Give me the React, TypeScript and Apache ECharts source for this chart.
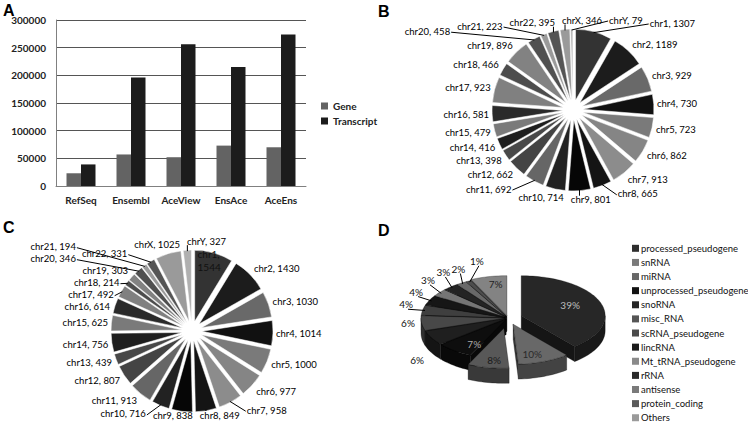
import React, { useEffect, useRef } from 'react';
import * as echarts from 'echarts';

// ---------- Panel A data ----------
const barCategories = ['RefSeq', 'Ensembl', 'AceView', 'EnsAce', 'AceEns'];
const geneCounts = [23000, 57000, 52000, 73000, 70000];
const transcriptCounts = [39000, 196000, 256000, 215000, 274000];
const yMax = 300000;
const yInterval = 50000;

// ---------- Panels B & C data ----------
const chrNames = ['chr1', 'chr2', 'chr3', 'chr4', 'chr5', 'chr6', 'chr7', 'chr8', 'chr9', 'chr10', 'chr11', 'chr12',
  'chr13', 'chr14', 'chr15', 'chr16', 'chr17', 'chr18', 'chr19', 'chr20', 'chr21', 'chr22', 'chrX', 'chrY'];
const countsB = [1307, 1189, 929, 730, 723, 862, 913, 665, 801, 714, 692, 662, 398, 416, 479, 581, 923, 466, 896, 458, 223, 395, 346, 79];
const countsC = [1544, 1430, 1030, 1014, 1000, 977, 958, 849, 838, 716, 913, 807, 439, 756, 625, 614, 492, 214, 303, 346, 194, 331, 1025, 327];
const chrColors = ['#333333', '#1c1c1c', '#696969', '#111111', '#7a7a7a', '#858585', '#8c8c8c', '#141414', '#060606', '#222222',
  '#666666', '#444444', '#484848', '#1e1e1e', '#7a7a7a', '#2a2a2a', '#808080', '#4d4d4d', '#828282', '#505050',
  '#9a9a9a', '#555555', '#9a9a9a', '#b0b0b0'];

// ---------- Panel D data ----------
const rnaTypes = ['processed_pseudogene', 'snRNA', 'miRNA', 'unprocessed_pseudogene', 'snoRNA', 'misc_RNA',
  'scRNA_pseudogene', 'lincRNA', 'Mt_tRNA_pseudogene', 'rRNA', 'antisense', 'protein_coding', 'Others'];
const rnaPercents = [39, 10, 8, 7, 6, 6, 4, 4, 3, 3, 2, 1, 7];
const rnaColors = ['#2e2e2e', '#7a7a7a', '#676767', '#111111', '#252525', '#555555', '#4a4a4a', '#1a1a1a',
  '#8a8a8a', '#2a2a2a', '#7a7a7a', '#5a5a5a', '#9a9a9a'];

// style config for the 3D pie (not data)
const D_GEOM = { cx: 508, cy: 318, rx: 84, ry: 40, depth: 15 };
const dExplode = [14, 14, 22, 3, 3, 3, 3, 3, 3, 3, 3, 3, 5];
const dInside = [true, true, true, true, false, false, false, false, false, false, false, false, true];
const dInsideColor = ['#bdbdbd', '#2a2a2a', '#1a1a1a', '#aaaaaa', '', '', '', '', '', '', '', '', '#222222'];
const dLeader = [false, false, false, false, false, false, true, true, true, true, true, true, false];
const dLabelNudge = [[0, 0], [0, 0], [0, 0], [0, 0], [0, 0], [3, -6], [0, -3], [2, -2], [2, -3], [4, -3], [6, -1], [16, -6], [0, 0]];

const FONT = 'Lato';
const LABEL_SIZE = 9.5;
const PIE_R = 71;
const PIE_OFFSET = 10;

function shade(hex: string, f: number) {
  const n = parseInt(hex.slice(1), 16);
  const r = Math.round(((n >> 16) & 255) * f);
  const g = Math.round(((n >> 8) & 255) * f);
  const b = Math.round((n & 255) * f);
  return `rgb(${r},${g},${b})`;
}

// geometry of one slice of the tilted pie, from the data
function sliceGeom(i: number, v: number) {
  const total = rnaPercents.reduce((a, b) => a + b, 0);
  let before = 0;
  for (let j = 0; j < i; j++) before += rnaPercents[j];
  const a0 = (before / total) * Math.PI * 2;
  const a1 = ((before + v) / total) * Math.PI * 2;
  const mid = (a0 + a1) / 2;
  const { cx, cy, rx, ry } = D_GEOM;
  const e = dExplode[i];
  const ox = e * Math.sin(mid);
  const oy = -e * Math.cos(mid) * (ry / rx);
  const px = (t: number, s = 1) => cx + ox + rx * s * Math.sin(t);
  const py = (t: number, s = 1) => cy + oy - ry * s * Math.cos(t);
  return { a0, a1, mid, ox, oy, px, py };
}

function renderPie3D(params: any, api: any) {
  const i = params.dataIndex;
  const v = Number(api.value(0));
  const { a0, a1, px, py, ox, oy } = sliceGeom(i, v);
  const { cx, cy, depth } = D_GEOM;
  const arc = (s: number, en: number, dy = 0) => {
    const n = Math.max(2, Math.ceil((en - s) / (Math.PI / 90)));
    const pts: number[][] = [];
    for (let q = 0; q <= n; q++) {
      const t = s + ((en - s) * q) / n;
      pts.push([px(t), py(t) + dy]);
    }
    return pts;
  };
  const apex = [cx + ox, cy + oy];
  const base = rnaColors[i];
  const children: any[] = [];
  const edge = 'rgba(0,0,0,0.55)';

  const ws = Math.max(a0, Math.PI / 2);
  const we = Math.min(a1, Math.PI * 1.5);
  if (we > ws) {
    const top = arc(ws, we);
    const bot = arc(ws, we, depth).reverse();
    const avgY = py((ws + we) / 2) + depth / 2;
    children.push({
      type: 'polygon', z2: Math.round(avgY),
      shape: { points: top.concat(bot) },
      style: { fill: shade(base, 0.55), stroke: edge, lineWidth: 0.5 },
    });
  }
  const wall = (t: number) => {
    const p = [px(t), py(t)];
    return {
      type: 'polygon', z2: Math.round((apex[1] + p[1]) / 2 + depth / 2),
      shape: { points: [apex, p, [p[0], p[1] + depth], [apex[0], apex[1] + depth]] },
      style: { fill: shade(base, 0.45), stroke: edge, lineWidth: 0.5 },
    };
  };
  if (Math.sin(a0) < -1e-6) children.push(wall(a0));
  if (Math.sin(a1) > 1e-6) children.push(wall(a1));

  children.push({
    type: 'polygon', z2: 1000,
    shape: { points: [apex].concat(arc(a0, a1)) },
    style: { fill: shade(base, 0.85), stroke: edge, lineWidth: 0.5 },
  });
  return { type: 'group', children };
}

function pie3DLabels() {
  const out: any[] = [];
  const { depth } = D_GEOM;
  rnaPercents.forEach((v, i) => {
    const { mid, px, py } = sliceGeom(i, v);
    const txt = `${v}%`;
    const font = `10px ${FONT}`;
    if (dInside[i]) {
      out.push({
        type: 'text', z: 10, x: px(mid, 0.62), y: py(mid, 0.8),
        style: { text: txt, fill: dInsideColor[i], font, textAlign: 'center', align: 'center', textVerticalAlign: 'middle', verticalAlign: 'middle' },
      });
    } else {
      const c = Math.cos(mid);
      const front = depth * Math.min(1, Math.max(0, -c) * 2);
      const lx = px(mid, 1.2) + dLabelNudge[i][0];
      const ly = py(mid, 1.4) + front + dLabelNudge[i][1];
      if (dLeader[i]) {
        out.push({
          type: 'line', z: 9,
          shape: { x1: px(mid, 0.97), y1: py(mid, 0.97), x2: lx + 2, y2: ly + 5 },
          style: { stroke: '#000', lineWidth: 1 },
        });
      }
      out.push({
        type: 'text', z: 10, x: lx, y: ly,
        style: { text: txt, fill: '#111', font, textAlign: 'center', align: 'center', textVerticalAlign: 'middle', verticalAlign: 'middle' },
      });
    }
  });
  return out;
}

type Box = {
  x: number; y: number; w: number; h: number; zone: string;
  nx: number; ny: number; rimX: number; rimY: number; text: string;
};

// 1D least-displacement packing of items along an axis (clusters merge when they collide)
function pack(items: { p: number; size: number; set: (v: number) => void }[]) {
  const sorted = items.slice().sort((a, b) => a.p - b.p);
  type Cl = { items: typeof sorted; start: number; len: number };
  const clusters: Cl[] = [];
  for (const it of sorted) {
    clusters.push({ items: [it], start: it.p, len: it.size });
    while (clusters.length > 1) {
      const c2 = clusters[clusters.length - 1];
      const c1 = clusters[clusters.length - 2];
      if (c1.start + c1.len <= c2.start) break;
      const all = c1.items.concat(c2.items);
      let off = 0;
      let sum = 0;
      for (const m of all) { sum += m.p - off; off += m.size; }
      clusters.splice(clusters.length - 2, 2, { items: all, start: sum / all.length, len: off });
    }
  }
  for (const c of clusters) {
    let off = 0;
    for (const m of c.items) { m.set(c.start + off); off += m.size; }
  }
}

// place pie labels just outside their slices (angles computed from the data), then resolve overlaps
function layoutPieLabels(values: number[], cx: number, cy: number, skipIdx: number, maxY: number): Box[] {
  const total = values.reduce((a, b) => a + b, 0);
  const canvas = document.createElement('canvas');
  const ctx = canvas.getContext('2d')!;
  ctx.font = `${LABEL_SIZE}px ${FONT}`;
  const Rout = PIE_R + PIE_OFFSET;
  const R = Rout + 3;
  const h = 12;
  const ZONE = 0.55;
  let acc = 0;
  const boxes: Box[] = [];
  values.forEach((v, i) => {
    const th = ((acc + v / 2) / total) * Math.PI * 2;
    acc += v;
    if (i === skipIdx) return;
    const s = Math.sin(th);
    const c = Math.cos(th);
    const text = `${chrNames[i]}, ${v}`;
    const w = ctx.measureText(text).width;
    const ax = cx + R * s;
    const ay = cy - R * c;
    const t = Math.max(-1, Math.min(1, s / ZONE));
    const x = ax - (w / 2) * (1 - t);
    const y = Math.min(maxY, ay - (c * h) / 2);
    const zone = Math.abs(s) < ZONE ? (c > 0 ? 'top' : 'bottom') : (s > 0 ? 'right' : 'left');
    boxes.push({ x, y, w, h, zone, nx: x, ny: y, rimX: cx + (Rout - 1) * s, rimY: cy - (Rout - 1) * c, text });
  });
  for (const zone of ['top', 'bottom']) {
    pack(boxes.filter((b) => b.zone === zone).map((b) => ({ p: b.x, size: b.w + 7, set: (v: number) => { b.x = v; } })));
  }
  for (const zone of ['left', 'right']) {
    pack(boxes.filter((b) => b.zone === zone).map((b) => ({ p: b.y - h / 2, size: h, set: (v: number) => { b.y = v + h / 2; } })));
  }
  // side labels hug the pie outline at their final height
  for (const b of boxes) {
    if (b.zone !== 'left' && b.zone !== 'right') continue;
    const dy = Math.max(0, Math.abs(b.y - cy) - h / 2);
    const edge = Math.sqrt(Math.max(0, R * R - dy * dy));
    b.x = b.zone === 'left' ? cx - edge - b.w : cx + edge;
  }
  // a side label that collides with a top/bottom label slides outwards
  for (let it = 0; it < 4; it++) {
    for (const sd of boxes) {
      if (sd.zone !== 'left' && sd.zone !== 'right') continue;
      for (const t of boxes) {
        if (t.zone !== 'top' && t.zone !== 'bottom') continue;
        const ox = Math.min(sd.x + sd.w, t.x + t.w) - Math.max(sd.x, t.x) + 3;
        const oy = Math.min(sd.y + h / 2, t.y + h / 2) - Math.max(sd.y - h / 2, t.y - h / 2);
        if (ox > 0 && oy > 0) {
          if (sd.zone === 'left') sd.x = Math.min(sd.x, t.x - 6 - sd.w);
          else sd.x = Math.max(sd.x, t.x + t.w + 6);
        }
      }
    }
  }
  return boxes;
}

function labelGraphics(boxes: Box[]) {
  const out: any[] = [];
  boxes.forEach((b) => {
    out.push({
      type: 'text', x: b.x, y: b.y, z: 10,
      style: { text: b.text, fill: '#000', font: `${LABEL_SIZE}px ${FONT}`, textVerticalAlign: 'middle', verticalAlign: 'middle' },
    });
    const moved = Math.hypot(b.x - b.nx, b.y - b.ny);
    if (moved > 6) {
      let ex: number;
      let ey: number;
      if (b.rimX >= b.x && b.rimX <= b.x + b.w) {
        ex = b.rimX;
        ey = b.rimY > b.y ? b.y + b.h / 2 - 2 : b.y - b.h / 2 + 2;
      } else {
        ex = b.rimX < b.x ? b.x - 1 : b.x + b.w + 1;
        ey = b.y + 1;
      }
      out.push({
        type: 'line', z: 9,
        shape: { x1: b.rimX, y1: b.rimY, x2: ex, y2: ey },
        style: { stroke: '#000', lineWidth: 1 },
      });
    }
  });
  return out;
}

function insideLabel(values: number[], idx: number, cx: number, cy: number) {
  const total = values.reduce((a, b) => a + b, 0);
  let acc = 0;
  for (let j = 0; j < idx; j++) acc += values[j];
  const th = ((acc + values[idx] / 2) / total) * Math.PI * 2;
  const r = PIE_R * 0.88 + PIE_OFFSET;
  return {
    type: 'text', z: 10, x: cx + r * Math.sin(th) - 14, y: cy - r * Math.cos(th) - 1,
    style: {
      text: `${chrNames[idx]},\n${values[idx]}`, fill: '#111', font: `${LABEL_SIZE + 0.5}px ${FONT}`,
      lineHeight: 13, textVerticalAlign: 'middle', verticalAlign: 'middle',
    },
  };
}

function pieSeries(values: number[], center: number[]) {
  return {
    type: 'pie',
    center,
    radius: [0, PIE_R],
    startAngle: 90,
    clockwise: true,
    selectedMode: 'multiple',
    selectedOffset: PIE_OFFSET,
    avoidLabelOverlap: false,
    emphasis: { disabled: true },
    select: { itemStyle: { borderColor: '#fff', borderWidth: 0.5 } },
    itemStyle: { borderColor: '#fff', borderWidth: 0.5 },
    label: { show: false },
    labelLine: { show: false },
    data: values.map((v, i) => ({ name: chrNames[i], value: v, selected: true, itemStyle: { color: chrColors[i] } })),
  };
}

export default function App() {
  const ref = useRef<HTMLDivElement>(null);
  useEffect(() => {
    document.body.style.margin = '0';
    if (!ref.current) return;
    const chart = echarts.init(ref.current, undefined, { renderer: 'svg' });

    const legendStart = 248.3;
    const legendStep = 14.12;
    const legendGraphics: any[] = [];
    rnaTypes.forEach((name, i) => {
      const y = legendStart + i * legendStep;
      legendGraphics.push({
        type: 'rect', shape: { x: 632, y: y - 3.5, width: 7, height: 7 }, style: { fill: rnaColors[i] },
      });
      legendGraphics.push({
        type: 'text', x: 641, y,
        style: { text: name, fill: '#111', font: `9.5px ${FONT}`, textVerticalAlign: 'middle', verticalAlign: 'middle' },
      });
    });

    const letter = (t: string, x: number, y: number) => ({
      type: 'text', x, y,
      style: { text: t, fill: '#000', font: 'bold 16px "Liberation Sans"' },
    });

    const centerB = [573, 110];
    const centerC = [192, 331];
    const boxesB = layoutPieLabels(countsB, centerB[0], centerB[1], -1, 415);
    const boxesC = layoutPieLabels(countsC, centerC[0], centerC[1], 0, 415);

    chart.setOption({
      animation: false,
      textStyle: { fontFamily: FONT },
      grid: [{ left: 56, top: 20, width: 250, height: 166 }],
      xAxis: [{
        type: 'category', data: barCategories, gridIndex: 0,
        axisLine: { lineStyle: { color: '#808080' } },
        axisTick: { show: false },
        axisLabel: { interval: 0, fontSize: 10, fontWeight: 'bold', color: '#222', margin: 9, fontFamily: FONT },
      }],
      yAxis: [{
        type: 'value', gridIndex: 0, min: 0, max: yMax, interval: yInterval,
        axisLine: { show: true, lineStyle: { color: '#808080' } },
        axisTick: { show: false },
        splitLine: { lineStyle: { color: '#555', width: 1 } },
        axisLabel: { formatter: (v: number) => String(v), fontSize: 10, fontWeight: 'bold', color: '#222', margin: 10, fontFamily: FONT },
      }],
      legend: [{
        data: ['Gene', 'Transcript'], orient: 'vertical', left: 316, top: 96,
        itemWidth: 7, itemHeight: 7, itemGap: 5, icon: 'rect',
        textStyle: { fontSize: 10, fontWeight: 'bold', color: '#222', fontFamily: FONT },
      }],
      graphic: [
        letter('A', 3, 2), letter('B', 378, 3), letter('C', 3, 219), letter('D', 378, 222),
        ...legendGraphics,
        ...labelGraphics(boxesB),
        ...labelGraphics(boxesC),
        insideLabel(countsC, 0, centerC[0], centerC[1]),
        ...pie3DLabels(),
      ],
      series: [
        { name: 'Gene', type: 'bar', data: geneCounts, barWidth: 14.5, barGap: '0%', itemStyle: { color: '#636363' } },
        { name: 'Transcript', type: 'bar', data: transcriptCounts, barWidth: 14.5, barGap: '0%', itemStyle: { color: '#1c1c1c' } },
        pieSeries(countsB, centerB),
        pieSeries(countsC, centerC),
        {
          type: 'custom', coordinateSystem: 'none',
          data: rnaPercents,
          renderItem: renderPie3D,
        },
      ],
    });
    return () => chart.dispose();
  }, []);
  return <div ref={ref} style={{ width: 748, height: 426 }} />;
}
